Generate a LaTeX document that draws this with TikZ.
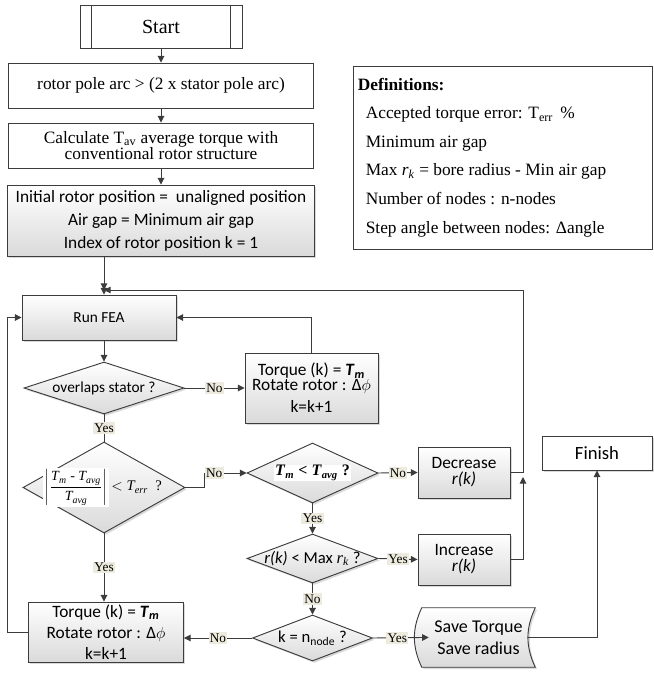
\documentclass[tikz,border=0pt]{standalone}
\usepackage{amsmath}
\usepackage{fontspec}
\setmainfont{Liberation Serif}
\newfontfamily\calfont{Carlito}
\usepackage{tikz}
\usetikzlibrary{arrows.meta,shapes.geometric,shadows,backgrounds}
\usetikzlibrary{positioning}
\usetikzlibrary{calc}

\definecolor{edgegray}{HTML}{3C3C3C}
\definecolor{tagbg}{HTML}{EDEBDE}
\definecolor{shadebot}{HTML}{DADADA}
\setlength{\fboxsep}{1pt}

\tikzset{
	flow/.style={draw=edgegray, line width=0.7pt, -{Triangle[length=5pt,width=5pt]}},
	link/.style={draw=edgegray, line width=0.7pt},
	tag/.style={fill=tagbg, inner sep=1pt, font=\fontsize{10}{10}\selectfont},
	softshadow/.style={drop shadow={shadow xshift=1.4pt, shadow yshift=-1.4pt, opacity=0.3}},
	plainbox/.style={draw=edgegray, line width=0.7pt, fill=white, align=center, inner sep=0pt, font=\fontsize{13}{12}\selectfont},
	graybox/.style={draw=edgegray, line width=0.7pt, top color=white, bottom color=shadebot, softshadow, align=center, inner sep=0pt, font=\calfont\fontsize{13}{15}\selectfont},
	endbox/.style={draw=edgegray, line width=0.7pt, fill=white, softshadow, align=center, inner sep=0pt, font=\calfont\fontsize{14}{15}\selectfont},
	decision/.style={diamond, draw=edgegray, line width=0.7pt, top color=white, bottom color=shadebot, softshadow, inner sep=0pt},
	dtext/.style={font=\calfont\fontsize{12.5}{14}\selectfont}
}

\begin{document}
\begin{tikzpicture}[x=0.75pt, y=-0.75pt]
\useasboundingbox (0,0) rectangle (653,677);

\node (start) [plainbox, minimum width=121.5pt, minimum height=32.25pt, font=\fontsize{15}{15}\selectfont] at (161,26.5) {Start};
\draw[link] ([xshift=9pt]start.north west) -- ([xshift=9pt]start.south west)
	([xshift=-9pt]start.north east) -- ([xshift=-9pt]start.south east);
\node (arcrule) [plainbox, minimum width=228.75pt, minimum height=33.75pt] at (161,85.5) {rotor pole arc > (2 x stator pole arc)};
\node (tavg) [plainbox, minimum width=228.75pt, minimum height=33.75pt] at (161,145.5) {Calculate T\textsubscript{av} average torque with\\conventional rotor structure};
\node (init) [graybox, minimum width=230.25pt, minimum height=53.25pt] at (161,220.5) {Initial rotor position = \ unaligned position\\[2.25pt]Air gap = Minimum air gap\\[2.25pt]Index of rotor position k = 1};

\node (defs) [draw=edgegray, line width=0.7pt, fill=white, minimum width=224.25pt, minimum height=137.25pt] at (502.5,157.5) {};
\node (deftext) [right=3.75pt of defs.west, align=left, inner sep=0pt, font=\fontsize{13}{21.4}\selectfont] {\textbf{Definitions:}\\
	\hspace*{6pt}Accepted torque error: T\textsubscript{err}\,\ \%\\
	\hspace*{6pt}Minimum air gap\\
	\hspace*{6pt}Max \textit{r}\textsubscript{\textit{k}} = bore radius - Min air gap\\
	\hspace*{6pt}Number of nodes : n-nodes\\
	\hspace*{6pt}Step angle between nodes: Δangle};

\coordinate (junc) at (104,290);
\coordinate (railtop) at (523,290);
\coordinate (railtip) at (523,477);
\coordinate (errjog) at (204,487.5);
\coordinate (loopL) at (7,632);

\node (runfea) [graybox, minimum width=115.5pt, minimum height=33.75pt, font=\calfont\fontsize{11.5}{13}\selectfont] at (99,317.5) {Run FEA};
\node (overlap) [decision, minimum width=120pt, minimum height=39pt, label={[dtext, font=\calfont\fontsize{11.5}{13}\selectfont]center:overlaps stator ?}] at (104,388) {};
\node (torqueA) [graybox, minimum width=99.75pt, minimum height=52.5pt] at (311.5,388) {Torque (k) = \textbf{\textit{T}\textsubscript{\textit{m}}}\\[-3.75pt]Rotate rotor : Δ$\phi$\\[1.5pt]k=k+1};
\node (err) [decision, minimum width=121.5pt, minimum height=68.25pt, label={[font=\fontsize{11}{13}\selectfont, xshift=-1pt]center:\colorbox{white}{\fontsize{10.5}{12}\selectfont$\left|\dfrac{\mathit{T}_{\mathit{m}}\text{\ -\ }\mathit{T}_{\mathit{avg}}}{\mathit{T}_{\mathit{avg}}}\right|$}\,$<\mathit{T}_{\mathit{err}}$ \ ?}] at (104,487.5) {};
\node (tmless) [decision, minimum width=98.25pt, minimum height=45pt, label={[fill=white, inner sep=0.5pt, font=\fontsize{12}{13}\selectfont]center:\textbf{\textit{T}\textsubscript{\textit{m}} < \textit{T}\textsubscript{\textit{avg}} ?}}] at (312.5,473) {};
\node (decr) [graybox, minimum width=69pt, minimum height=38.25pt] at (464,472.5) {Decrease\\[-3pt]\textit{r(k)}};
\node (rmax) [decision, minimum width=98.25pt, minimum height=36.75pt, label={[dtext]center:\textit{r(k)} < Max {\rmfamily\textit{r}\textsubscript{\textit{k}}} ?}] at (312.5,558.5) {};
\node (incr) [graybox, minimum width=69pt, minimum height=38.25pt] at (464,559.5) {Increase\\[-3pt]\textit{r(k)}};
\node (knode) [decision, minimum width=90pt, minimum height=34.5pt, label={[dtext]center:k = n\textsubscript{node} ?}] at (312.5,638) {};
\node (save) [align=center, inner sep=0pt, minimum width=84.75pt, minimum height=44.25pt, font=\calfont\fontsize{13.5}{16}\selectfont] at (478.5,637.5) {Save Torque\\[0.5pt]Save radius};
\begin{scope}[on background layer]
\path[draw=edgegray, line width=0.7pt, top color=white, bottom color=shadebot, softshadow]
	(save.north west) to[bend right=25] (save.south west) -- (save.south east) to[bend left=25] (save.north east) -- cycle;
\end{scope}
\node (finish) [endbox, minimum width=82.5pt, minimum height=25.5pt] at (597,453) {Finish};
\node (torqueB) [graybox, minimum width=116.25pt, minimum height=45pt] at (106,632) {Torque (k) = \textbf{\textit{T}\textsubscript{\textit{m}}}\\[1pt]Rotate rotor : Δ$\phi$\\[1pt]k=k+1};

\draw[flow] (start) -- (arcrule);
\draw[flow] (arcrule) -- (tavg);
\draw[flow] (tavg) -- (init);
\draw[flow] (init.south -| junc) -- (junc);
\draw[flow] (junc) -- (junc |- runfea.north);
\draw[flow] (runfea.south -| overlap) -- (overlap.north);
\draw[flow] (overlap.east) -- node[tag] {No} (torqueA.west);
\draw[flow] (torqueA.north) |- (runfea.east);
\draw[link] (overlap.south) -- node[tag] {Yes} (err.north);
\draw[flow] (err.east) -- (errjog) |- node[tag, pos=0.62] {No} (tmless.west);
\draw[flow] (err.south) -- node[tag] {Yes} (err.south |- torqueB.north);
\draw[flow] (tmless.east) -- node[tag] {No} (decr.west);
\draw[flow] (tmless.south) -- node[tag] {Yes} (rmax.north);
\draw[flow] (rmax.east) -- node[tag] {Yes} (incr.west);
\draw[flow] (rmax.south) -- node[tag] {No} (knode.north);
\draw[flow, shorten >=-5.25pt] (knode.east) -- node[tag] {Yes} (save.west);
\draw[flow] (knode.west) -- node[tag] {No} (knode.west -| torqueB.east);
\draw[flow, shorten <=-5.25pt] (save.east) -| (finish.south);
\draw[flow] (torqueB.west) -- (loopL) |- (runfea.west);
\draw[flow] (decr.east) -| (railtop) -- (junc);
\draw[flow] (incr.east) -| (railtip);
\end{tikzpicture}
\end{document}
